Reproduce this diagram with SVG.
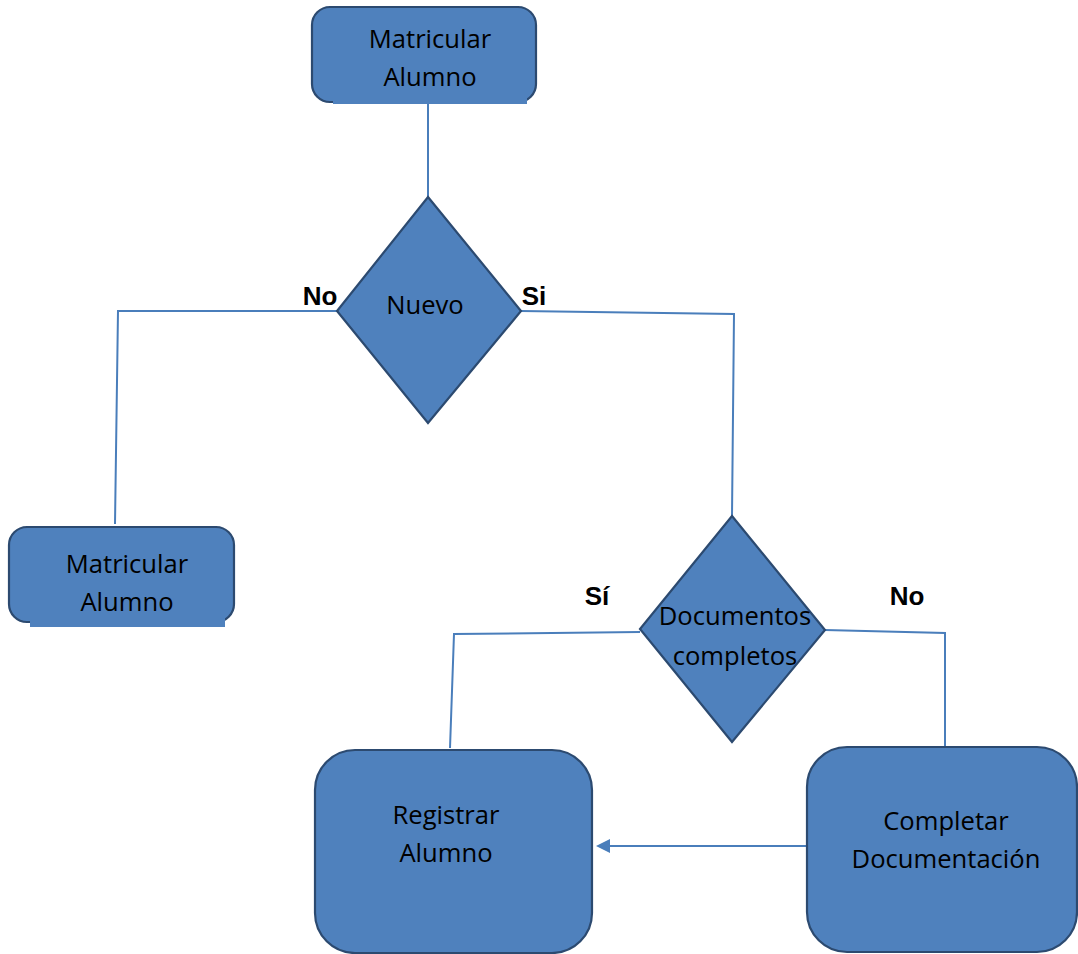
<svg xmlns="http://www.w3.org/2000/svg" width="1078" height="954" viewBox="0 0 1078 954">
<defs>
<style>
.box{fill:#4f81bd;stroke:#2c4a70;stroke-width:2.2}
.patch{fill:#4f81bd;stroke:none}
.t{font-family:"Open Sans","Liberation Sans",Arial,sans-serif;font-size:25.6px;fill:#000;text-anchor:middle}
.lb{font-family:"Liberation Sans",Arial,sans-serif;font-size:26px;font-weight:bold;fill:#000;text-anchor:middle}
.c{fill:none;stroke:#4a7ebb;stroke-width:2}
</style>
</defs>
<rect width="1078" height="954" fill="#fff"/>
<g id="connectors">
<line class="c" x1="428" y1="104" x2="428" y2="197" stroke-width="1"/>
<polyline class="c" points="337,311 118,311 115,524"/>
<polyline class="c" points="521,311 734,314 732,516"/>
<polyline class="c" points="640,632 454,634 450,748"/>
<polyline class="c" points="825,630 945,633 945,747"/>
<line class="c" x1="807" y1="846" x2="608" y2="846"/>
<path d="M596,846 L610,839 L610,853 z" fill="#4a7ebb"/>
</g>
<g id="n1">
<rect class="box" x="312" y="7" width="224" height="95" rx="18"/>
<rect class="patch" x="333" y="96" width="194" height="8"/>
<text class="t" x="430" y="48">Matricular</text>
<text class="t" x="430" y="86">Alumno</text>
</g>
<g id="n2">
<polygon class="box" points="428,197 521,311 428,423 337,311"/>
<text class="t" x="425" y="314">Nuevo</text>
</g>
<g id="n3">
<rect class="box" x="9" y="527" width="225" height="95" rx="18"/>
<rect class="patch" x="30" y="617" width="195" height="10"/>
<text class="t" x="127" y="573">Matricular</text>
<text class="t" x="127" y="611">Alumno</text>
</g>
<g id="n4">
<polygon class="box" points="732,516 825,630 732,742 640,629"/>
<text class="t" x="735" y="625">Documentos</text>
<text class="t" x="735" y="665">completos</text>
</g>
<g id="n5">
<rect class="box" x="315" y="750" width="277" height="203" rx="40"/>
<text class="t" x="446" y="824">Registrar</text>
<text class="t" x="446" y="862">Alumno</text>
</g>
<g id="n6">
<rect class="box" x="807" y="747" width="270" height="205" rx="40"/>
<text class="t" x="946" y="830">Completar</text>
<text class="t" x="946" y="868">Documentación</text>
</g>
<g id="labels">
<text class="lb" x="320" y="305">No</text>
<text class="lb" x="534" y="305">Si</text>
<text class="lb" x="597" y="605">Sí</text>
<text class="lb" x="907" y="605">No</text>
</g>
</svg>
